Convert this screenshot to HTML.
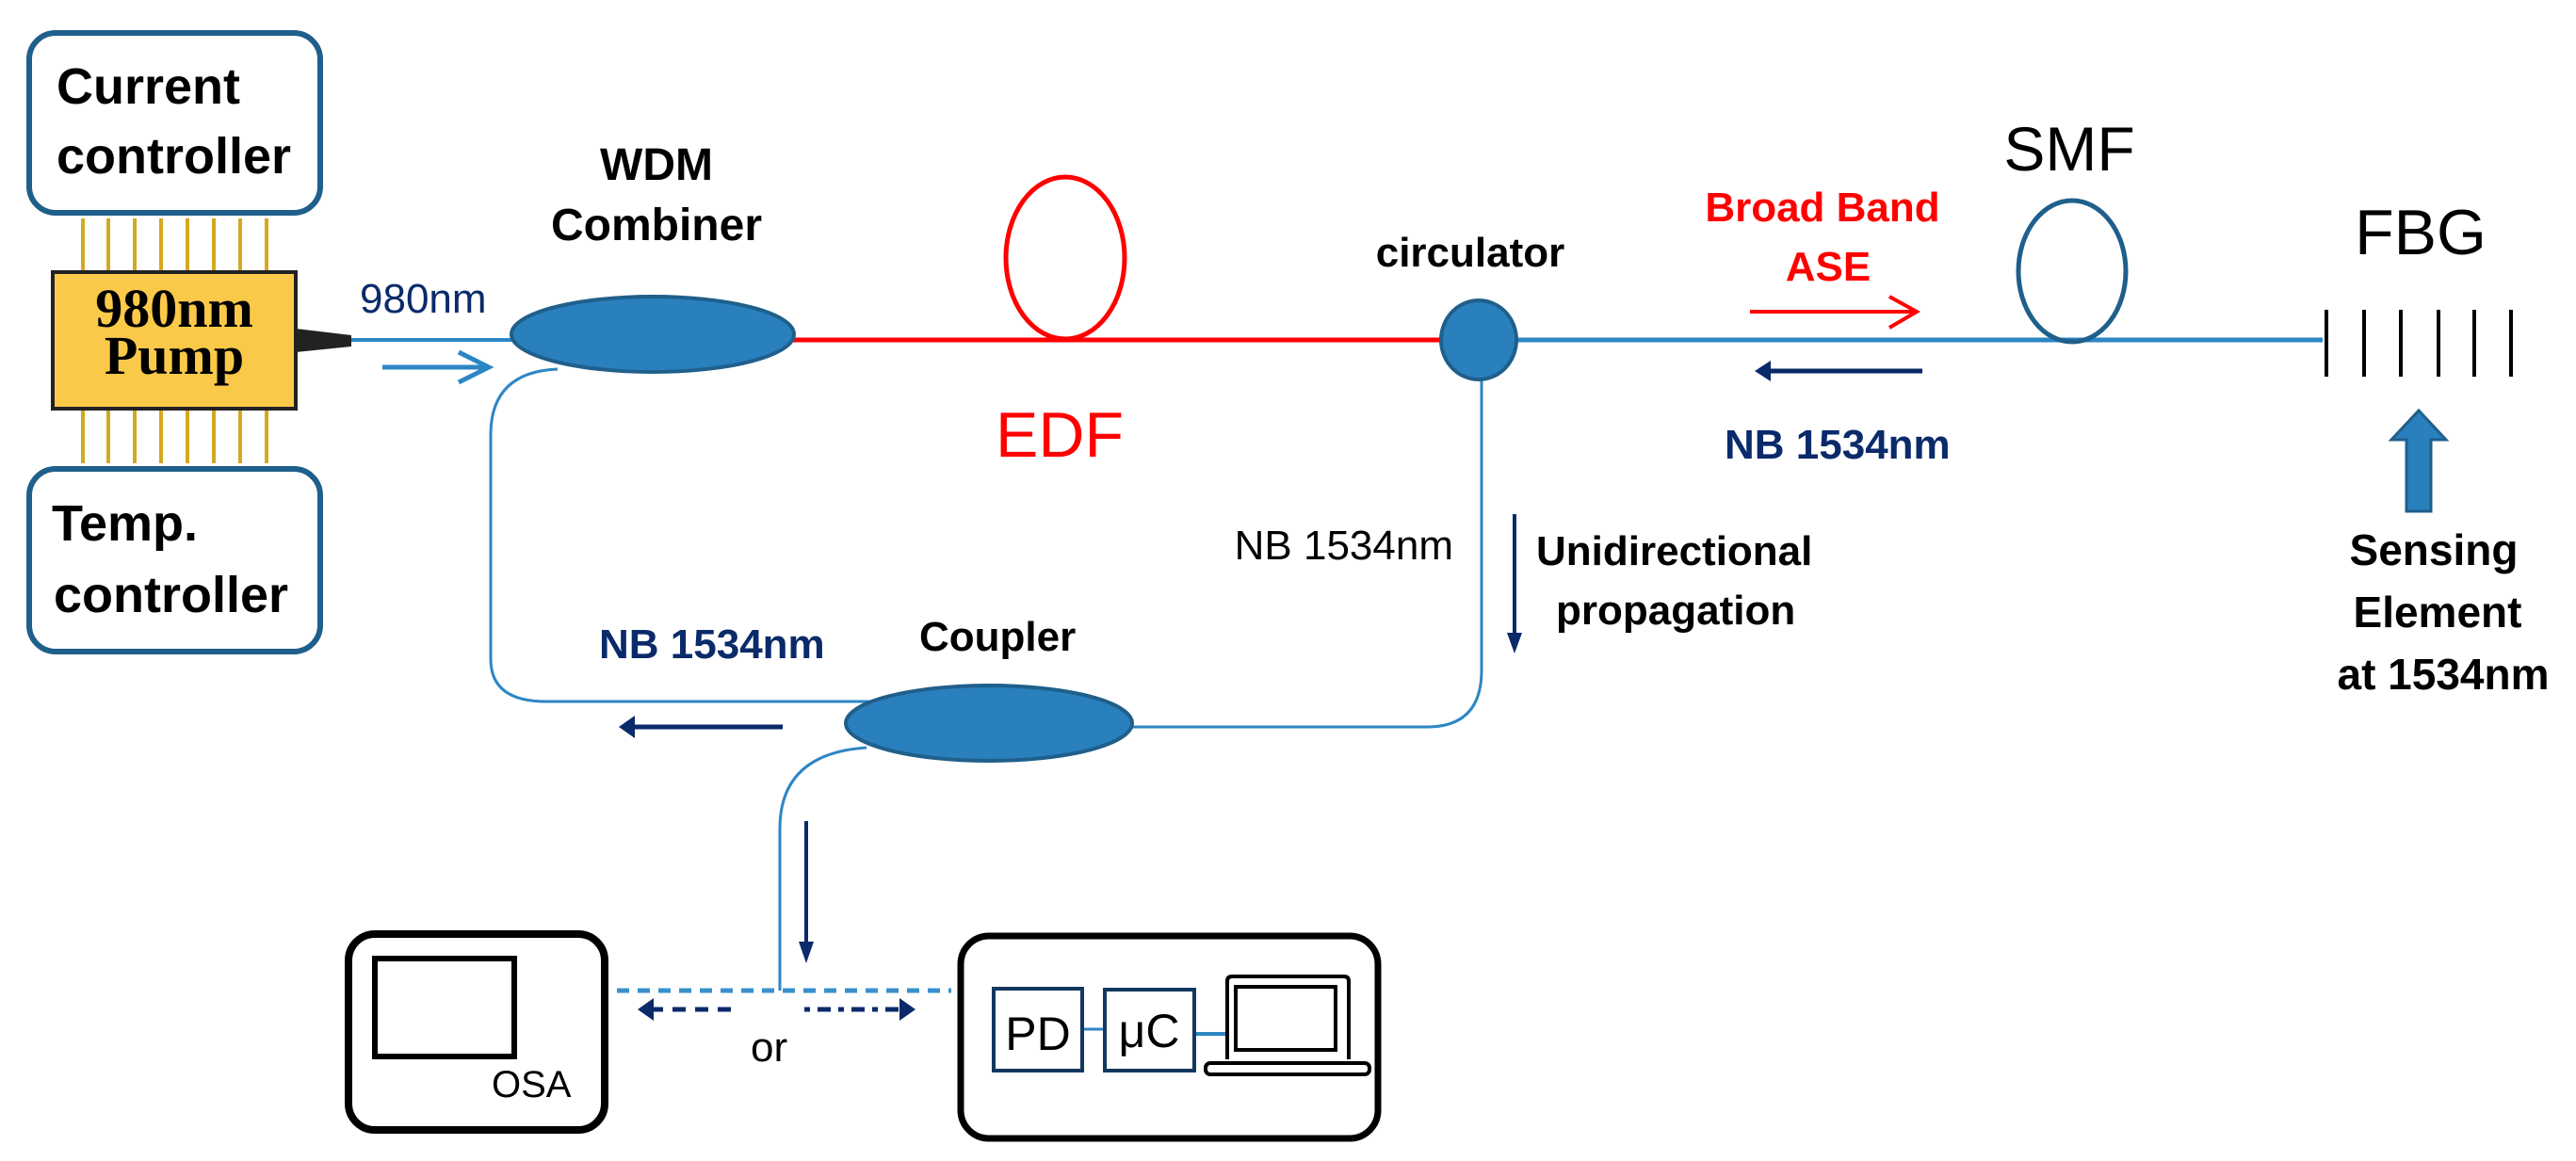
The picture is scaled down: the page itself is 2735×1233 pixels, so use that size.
<!DOCTYPE html>
<html><head><meta charset="utf-8"><style>
html,body{margin:0;padding:0;background:#fff}
svg{display:block}
text{font-family:"Liberation Sans",sans-serif}
</style></head><body>
<svg width="2735" height="1233" viewBox="0 0 2735 1233" xmlns="http://www.w3.org/2000/svg">
<!-- controller boxes -->
<rect x="31" y="35" width="309" height="191" rx="28" fill="#fff" stroke="#1f5f8b" stroke-width="6"/>
<text x="60" y="110" font-size="54" font-weight="bold">Current</text>
<text x="60" y="184" font-size="54" font-weight="bold">controller</text>
<rect x="31" y="498" width="309" height="194" rx="28" fill="#fff" stroke="#1f5f8b" stroke-width="6"/>
<text x="55" y="574" font-size="54" font-weight="bold">Temp.</text>
<text x="57" y="650" font-size="54" font-weight="bold">controller</text>
<!-- pins -->
<g stroke="#d4a820" stroke-width="4">
<line x1="88" y1="232" x2="88" y2="492"/><line x1="115" y1="232" x2="115" y2="492"/>
<line x1="143" y1="232" x2="143" y2="492"/><line x1="171" y1="232" x2="171" y2="492"/>
<line x1="199" y1="232" x2="199" y2="492"/><line x1="227" y1="232" x2="227" y2="492"/>
<line x1="255" y1="232" x2="255" y2="492"/><line x1="283" y1="232" x2="283" y2="492"/>
</g>
<rect x="56" y="289" width="258" height="145" fill="#fbc94a" stroke="#222" stroke-width="4"/>
<text x="185" y="347" font-size="58" font-weight="bold" text-anchor="middle" style="font-family:'Liberation Serif',serif">980nm</text>
<text x="185" y="397" font-size="58" font-weight="bold" text-anchor="middle" style="font-family:'Liberation Serif',serif">Pump</text>
<polygon points="314,349 373,356 373,368 314,374" fill="#222"/>
<!-- 980nm -->
<text x="382" y="332" font-size="44" fill="#0a2a6a">980nm</text>
<line x1="373" y1="361" x2="545" y2="361" stroke="#2d86c4" stroke-width="4"/>
<line x1="406" y1="390" x2="518" y2="390" stroke="#2d86c4" stroke-width="5"/>
<polyline points="487,374 519,390 487,406" fill="none" stroke="#2d86c4" stroke-width="5"/>
<!-- WDM -->
<text x="697" y="191" font-size="48" font-weight="bold" text-anchor="middle">WDM</text>
<text x="697" y="255" font-size="48" font-weight="bold" text-anchor="middle">Combiner</text>
<path d="M592,392 Q522,395 521,460 L521,700 Q521,745 580,745 L935,745" fill="none" stroke="#2d86c4" stroke-width="3"/>
<!-- red EDF -->
<line x1="842" y1="361" x2="1532" y2="361" stroke="#f00" stroke-width="5"/>
<ellipse cx="1131" cy="274" rx="63" ry="86" fill="none" stroke="#f00" stroke-width="5"/>
<text x="1125" y="485" font-size="68" fill="#f00" text-anchor="middle">EDF</text>
<ellipse cx="693" cy="355" rx="150" ry="40" fill="#2a7fbd" stroke="#1f5f8b" stroke-width="4"/>
<!-- circulator -->
<text x="1561" y="283" font-size="44" font-weight="bold" text-anchor="middle">circulator</text>
<line x1="1570" y1="361" x2="2466" y2="361" stroke="#2d86c4" stroke-width="5"/>
<path d="M1573,400 L1573,712 Q1573,772 1515,772 L1200,772" fill="none" stroke="#2d86c4" stroke-width="3"/>
<ellipse cx="1570" cy="361" rx="40" ry="42" fill="#2a7fbd" stroke="#1f5f8b" stroke-width="4"/>
<!-- broad band -->
<text x="1935" y="235" font-size="44" font-weight="bold" fill="#f00" text-anchor="middle">Broad Band</text>
<text x="1941" y="298" font-size="44" font-weight="bold" fill="#f00" text-anchor="middle">ASE</text>
<line x1="1858" y1="331" x2="2034" y2="331" stroke="#f00" stroke-width="4"/>
<polyline points="2006,315 2035,331 2006,348" fill="none" stroke="#f00" stroke-width="4"/>
<line x1="1875" y1="394" x2="2041" y2="394" stroke="#0a2a6a" stroke-width="5"/>
<polygon points="1863,394 1880,383 1880,405" fill="#0a2a6a"/>
<text x="1831" y="487" font-size="44" font-weight="bold" fill="#0a2a6a">NB 1534nm</text>
<!-- SMF -->
<text x="2197" y="181" font-size="66" text-anchor="middle">SMF</text>
<ellipse cx="2200" cy="288" rx="57" ry="75" fill="none" stroke="#1f5f8b" stroke-width="5"/>
<!-- FBG -->
<text x="2570" y="270" font-size="68" text-anchor="middle">FBG</text>
<g stroke="#000" stroke-width="4">
<line x1="2470" y1="329" x2="2470" y2="400"/><line x1="2510" y1="329" x2="2510" y2="400"/>
<line x1="2549" y1="329" x2="2549" y2="400"/><line x1="2589" y1="329" x2="2589" y2="400"/>
<line x1="2627" y1="329" x2="2627" y2="400"/><line x1="2666" y1="329" x2="2666" y2="400"/>
</g>
<polygon points="2555,543 2581,543 2581,467 2597,467 2568,436 2539,467 2555,467" fill="#2a7fbd" stroke="#1f5f8b" stroke-width="3"/>
<text x="2584" y="600" font-size="46" font-weight="bold" text-anchor="middle">Sensing</text>
<text x="2588" y="666" font-size="46" font-weight="bold" text-anchor="middle">Element</text>
<text x="2594" y="732" font-size="46" font-weight="bold" text-anchor="middle">at 1534nm</text>
<!-- circulator down labels -->
<text x="1543" y="594" font-size="44" text-anchor="end">NB 1534nm</text>
<line x1="1608" y1="546" x2="1608" y2="675" stroke="#0a2a6a" stroke-width="4"/>
<polygon points="1600,672 1616,672 1608,694" fill="#0a2a6a"/>
<text x="1631" y="600" font-size="44" font-weight="bold">Unidirectional</text>
<text x="1652" y="663" font-size="44" font-weight="bold">propagation</text>
<!-- coupler -->
<text x="636" y="699" font-size="44" font-weight="bold" fill="#0a2a6a">NB 1534nm</text>
<text x="976" y="691" font-size="44" font-weight="bold">Coupler</text>
<path d="M920,794 Q828,800 828,880 L828,1052" fill="none" stroke="#2d86c4" stroke-width="3"/>
<ellipse cx="1050" cy="768" rx="152" ry="40" fill="#2a7fbd" stroke="#1f5f8b" stroke-width="4"/>
<line x1="672" y1="772" x2="831" y2="772" stroke="#0a2a6a" stroke-width="5"/>
<polygon points="657,772 674,760 674,784" fill="#0a2a6a"/>
<line x1="856" y1="872" x2="856" y2="1005" stroke="#0a2a6a" stroke-width="4"/>
<polygon points="848,1000 864,1000 856,1023" fill="#0a2a6a"/>
<!-- dashed -->
<line x1="655" y1="1052" x2="1010" y2="1052" stroke="#3a90cc" stroke-width="5" stroke-dasharray="13,9"/>
<line x1="690" y1="1072" x2="777" y2="1072" stroke="#0a2a6a" stroke-width="5" stroke-dasharray="14,10"/>
<polygon points="677,1072 694,1060 694,1084" fill="#0a2a6a"/>
<line x1="854" y1="1072" x2="958" y2="1072" stroke="#0a2a6a" stroke-width="5" stroke-dasharray="6,8,14,8"/>
<polygon points="972,1072 955,1060 955,1084" fill="#0a2a6a"/>
<text x="797" y="1127" font-size="44">or</text>
<!-- OSA box -->
<rect x="370" y="992" width="272" height="208" rx="28" fill="#fff" stroke="#000" stroke-width="8"/>
<rect x="398" y="1018" width="148" height="104" fill="none" stroke="#000" stroke-width="6"/>
<text x="522" y="1165" font-size="40">OSA</text>
<!-- right box -->
<rect x="1020" y="994" width="443" height="215" rx="30" fill="#fff" stroke="#000" stroke-width="7"/>
<line x1="1150" y1="1093" x2="1171" y2="1093" stroke="#2d86c4" stroke-width="3"/>
<line x1="1269" y1="1098" x2="1303" y2="1098" stroke="#2d86c4" stroke-width="4"/>
<rect x="1055" y="1050" width="94" height="87" fill="#fff" stroke="#12385e" stroke-width="4"/>
<text x="1102" y="1115" font-size="50" text-anchor="middle">PD</text>
<rect x="1173" y="1051" width="95" height="86" fill="#fff" stroke="#12385e" stroke-width="4"/>
<text x="1220" y="1112" font-size="50" text-anchor="middle">μC</text>
<path d="M1303,1125 L1303,1042 Q1303,1037 1308,1037 L1427,1037 Q1432,1037 1432,1042 L1432,1125" fill="none" stroke="#000" stroke-width="4"/>
<rect x="1312" y="1048" width="106" height="67" fill="none" stroke="#000" stroke-width="4"/>
<rect x="1280" y="1129" width="174" height="12" rx="5" fill="#fff" stroke="#000" stroke-width="4"/>
</svg>
</body></html>
